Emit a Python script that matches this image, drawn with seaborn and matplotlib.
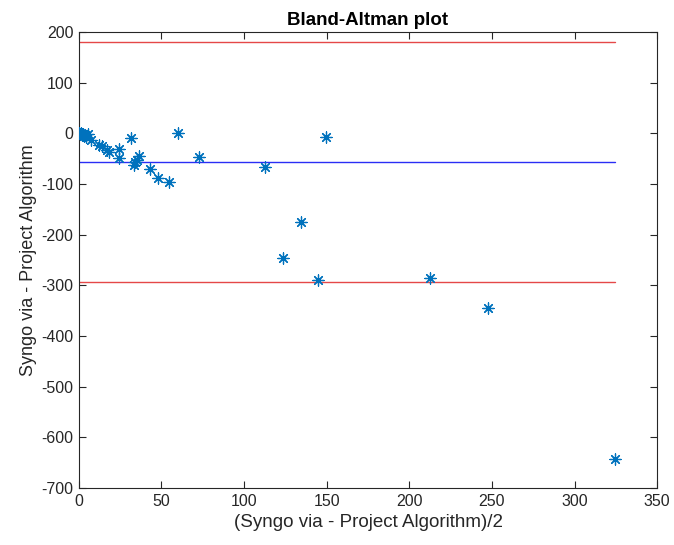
import numpy as np
import pandas as pd
import matplotlib
matplotlib.use("Agg")
import matplotlib.pyplot as plt
import seaborn as sns

# Bland-Altman data
mean_vals = [0.3, 0.8, 1.2, 1.6, 2.0, 2.4, 2.8, 3.3, 3.8, 4.3, 5.3, 7.3,
             12.3, 14.3, 17.0, 18.4, 24.4, 24.4, 31.5, 33.3, 34.0, 35.0,
             36.5, 43.0, 47.8, 54.3, 60.0, 72.5, 112.8, 123.4, 134.5,
             144.8, 149.4, 212.4, 247.5, 324.6]
diff_vals = [0.5, -1.5, 1.5, -3.0, -0.5, -4.0, -2.0, -5.5, -3.5, -7.0, -1.3, -13.0,
             -23.0, -26.0, -33.0, -36.0, -31.0, -48.0, -9.0, -63.0, -56.0, -52.0,
             -45.0, -70.0, -88.0, -97.0, 1.0, -47.0, -65.7, -246.0, -175.0,
             -289.0, -7.0, -285.7, -343.8, -643.0]

bias = -57.0
loa_upper = 180.0
loa_lower = -294.0

df = pd.DataFrame({'mean': mean_vals, 'diff': diff_vals})

sns.set_theme(style="white")
plt.rcParams['font.family'] = ['Liberation Sans', 'DejaVu Sans']
plt.rcParams['axes.unicode_minus'] = False

fig = plt.figure(figsize=(6.74, 5.45), dpi=100)
ax = fig.add_axes([0.117, 0.1046, 0.858, 0.8367])

x_end = max(mean_vals)
sns.lineplot(x=[0, x_end], y=[loa_upper, loa_upper], color='#e54848', linewidth=1.0, ax=ax)
sns.lineplot(x=[0, x_end], y=[loa_lower, loa_lower], color='#e54848', linewidth=1.0, ax=ax)
sns.lineplot(x=[0, x_end], y=[bias, bias], color='#2a2ef5', linewidth=1.0, ax=ax)

sns.scatterplot(data=df, x='mean', y='diff', marker=(8, 2, 0), s=65,
                color='#0072BD', edgecolor='#0072BD', linewidth=0.9, ax=ax, zorder=3)

ax.set_xlim(0, 350)
ax.set_ylim(-700, 200)
ax.set_xticks(np.arange(0, 351, 50))
ax.set_yticks(np.arange(-700, 201, 100))

for s in ax.spines.values():
    s.set_color('#262626')
    s.set_linewidth(0.8)
ax.tick_params(direction='in', length=5, width=0.8, color='#262626',
               top=True, right=True, bottom=True, left=True,
               labelsize=11.5, labelcolor='#262626', pad=4)

ax.set_title('Bland-Altman plot', fontsize=13.5, fontweight='bold', color='black', pad=5)
ax.set_xlabel('(Syngo via - Project Algorithm)/2', fontsize=13.5, color='#262626', labelpad=4)
ax.set_ylabel('Syngo via - Project Algorithm', fontsize=13, color='#262626', labelpad=3)

fig.savefig('out.png', dpi=100, facecolor='white')
